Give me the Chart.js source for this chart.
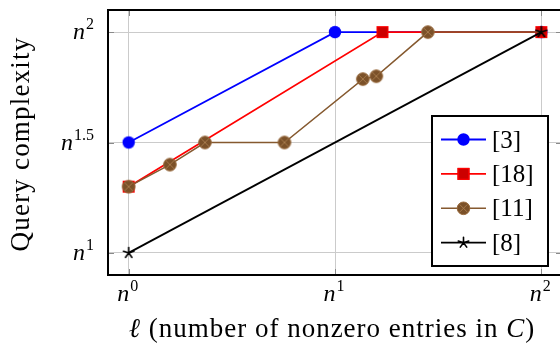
<!DOCTYPE html>
<html><head><meta charset="utf-8">
<script src="https://cdn.jsdelivr.net/npm/chart.js@4.4.1/dist/chart.umd.min.js"></script>
<style>html,body{margin:0;padding:0;background:#fff;overflow:hidden;width:560px;height:352px}canvas{display:block}</style>
</head><body><canvas id="c" width="570" height="352"></canvas>
<script>
// ---- data ----
const seriesLabels = ['[3]', '[18]', '[11]', '[8]'];
const x3  = [0, 1, 2];
const y3  = [1.5, 2, 2];
const x18 = [0, 1.23, 2];
const y18 = [1.3, 2, 2];
const x11 = [0, 0.2, 0.37, 0.755, 1.135, 1.2, 1.45, 2];
const y11 = [1.3, 1.4, 1.5, 1.5, 1.787, 1.8, 2, 2];
const x8  = [0, 2];
const y8  = [1, 2];
const xTickValues = [0, 1, 2];
const xTickExps   = ['0', '1', '2'];
const yTickValues = [1, 1.5, 2];
const yTickExps   = ['1', '1.5', '2'];
const tickBase = 'n';
const xTitle = 'ℓ (number of nonzero entries in C)';
const yTitle = 'Query complexity';

// ---- styling ----
const SERIF = '"Liberation Serif", "Times New Roman", serif';
const colors = { blue: '#0000ff', red: '#ff0000', brown: '#85592f', black: '#000000' };

function drawMarker(ctx, kind, x, y) {
  ctx.save();
  if (kind === 'circle') {
    ctx.beginPath(); ctx.arc(x, y, 6.2, 0, Math.PI * 2);
    ctx.fillStyle = '#0000ff'; ctx.fill();
  } else if (kind === 'square') {
    ctx.fillStyle = '#cc0000'; ctx.fillRect(x - 6, y - 6, 12, 12);
    ctx.strokeStyle = '#ff0000'; ctx.lineWidth = 1.2; ctx.strokeRect(x - 5.4, y - 5.4, 10.8, 10.8);
  } else if (kind === 'otimes') {
    const r = 6.3;
    ctx.beginPath(); ctx.arc(x, y, r, 0, Math.PI * 2);
    ctx.fillStyle = '#7b5129'; ctx.fill();
    ctx.strokeStyle = '#98693b'; ctx.lineWidth = 1; ctx.stroke();
    ctx.strokeStyle = '#a67a4c'; ctx.lineWidth = 1;
    const d = r * 0.62;
    ctx.beginPath();
    ctx.moveTo(x - d, y - d); ctx.lineTo(x + d, y + d);
    ctx.moveTo(x + d, y - d); ctx.lineTo(x - d, y + d);
    ctx.stroke();
  } else if (kind === 'star') {
    ctx.strokeStyle = '#000'; ctx.lineWidth = 1.6; ctx.lineCap = 'round';
    ctx.beginPath();
    for (let k = 0; k < 5; k++) {
      const a = -Math.PI / 2 + k * 2 * Math.PI / 5;
      ctx.moveTo(x, y); ctx.lineTo(x + 5.5 * Math.cos(a), y + 5.5 * Math.sin(a));
    }
    ctx.stroke();
  }
  ctx.restore();
}
function markerImage(kind) {
  const c = document.createElement('canvas');
  c.width = 18; c.height = 18;
  drawMarker(c.getContext('2d'), kind, 9, 9);
  return c;
}
const markerKinds = ['circle', 'square', 'otimes', 'star'];
const lineColors = [colors.blue, colors.red, colors.brown, colors.black];
const lineWidths = [1.8, 1.8, 1.5, 1.8];
const pts = (xs, ys) => xs.map((v, i) => ({ x: v, y: ys[i] }));
const seriesData = [pts(x3, y3), pts(x18, y18), pts(x11, y11), pts(x8, y8)];

const datasets = seriesData.map((d, i) => ({
  label: seriesLabels[i],
  data: d,
  borderColor: lineColors[i],
  borderWidth: lineWidths[i],
  pointStyle: markerImage(markerKinds[i]),
  pointRadius: i === 2 ? d.map((p, j) => j === d.length - 1 ? 0 : 6) : 6,
  pointHoverRadius: 6,
  tension: 0,
  fill: false,
  order: 4 - i
}));

function drawPow(ctx, exp, x, y, align) {
  const baseFont = 'italic 24px ' + SERIF, supFont = '16px ' + SERIF;
  ctx.font = baseFont; const wb = ctx.measureText(tickBase).width;
  ctx.font = supFont; const we = ctx.measureText(exp).width;
  const total = wb + 1 + we;
  const sx = align === 'right' ? x - total : x - total / 2;
  ctx.fillStyle = '#000'; ctx.textAlign = 'left'; ctx.textBaseline = 'alphabetic';
  ctx.font = baseFont; ctx.fillText(tickBase, sx, y);
  ctx.font = supFont; ctx.fillText(exp, sx + wb + 1, y - 10);
}

function drawRichText(ctx, text, cx, y, size, spacing) {
  const parts = text.split(/(ℓ|C)/).filter(s => s.length);
  const fonts = parts.map(p => (p === 'ℓ' || p === 'C' ? 'italic ' : '') + size + 'px ' + SERIF);
  if ('letterSpacing' in ctx) ctx.letterSpacing = spacing + 'px';
  let w = 0; const ws = [];
  parts.forEach((p, i) => { ctx.font = fonts[i]; const m = ctx.measureText(p).width; ws.push(m); w += m; });
  let sx = cx - w / 2;
  ctx.textAlign = 'left'; ctx.textBaseline = 'alphabetic'; ctx.fillStyle = '#000';
  parts.forEach((p, i) => { ctx.font = fonts[i]; ctx.fillText(p, sx, y); sx += ws[i]; });
  if ('letterSpacing' in ctx) ctx.letterSpacing = '0px';
}

const decor = {
  id: 'decor',
  beforeDatasetsDraw(chart) {
    const { ctx, chartArea: a, scales: { x, y } } = chart;
    ctx.save();
    ctx.strokeStyle = '#8a8a8a'; ctx.lineWidth = 1;
    ctx.beginPath();
    xTickValues.forEach(v => {
      const px = Math.round(x.getPixelForValue(v)) + 0.5;
      ctx.moveTo(px, a.bottom); ctx.lineTo(px, a.bottom - 6);
      ctx.moveTo(px, a.top); ctx.lineTo(px, a.top + 6);
    });
    yTickValues.forEach(v => {
      const py = Math.round(y.getPixelForValue(v)) + 0.5;
      ctx.moveTo(a.left, py); ctx.lineTo(a.left + 6, py);
      ctx.moveTo(a.right, py); ctx.lineTo(a.right - 6, py);
    });
    ctx.stroke();
    ctx.restore();
  },
  afterDatasetsDraw(chart) {
    const { ctx, chartArea: a } = chart;
    ctx.save();
    ctx.strokeStyle = '#000'; ctx.lineWidth = 2;
    ctx.strokeRect(a.left, a.top, a.right - a.left, a.bottom - a.top);
    ctx.restore();
  },
  afterDraw(chart) {
    const { ctx, scales: { x, y } } = chart;
    ctx.save();
    // tick labels
    yTickValues.forEach((v, i) => drawPow(ctx, yTickExps[i], 94, y.getPixelForValue(v) + 7, 'right'));
    xTickValues.forEach((v, i) => drawPow(ctx, xTickExps[i], x.getPixelForValue(v) - 1, 301, 'center'));
    // axis titles
    drawRichText(ctx, xTitle, 332, 337, 27, 1);
    ctx.save();
    ctx.translate(29, 144); ctx.rotate(-Math.PI / 2);
    drawRichText(ctx, yTitle, 0, 0, 27, 1.2);
    ctx.restore();
    // legend
    const L = 432, T = 116, W = 116, H = 150;
    ctx.fillStyle = '#fff'; ctx.fillRect(L, T, W, H);
    ctx.strokeStyle = '#000'; ctx.lineWidth = 2; ctx.strokeRect(L, T, W, H);
    seriesLabels.forEach((lab, i) => {
      const ey = 139.5 + i * 34.4;
      ctx.strokeStyle = lineColors[i]; ctx.lineWidth = lineWidths[i];
      ctx.beginPath(); ctx.moveTo(441, ey); ctx.lineTo(486, ey); ctx.stroke();
      drawMarker(ctx, markerKinds[i], 463.5, ey);
      ctx.fillStyle = '#000'; ctx.font = '25px ' + SERIF;
      ctx.textAlign = 'left'; ctx.textBaseline = 'alphabetic';
      ctx.fillText(lab, 492, ey + 8);
    });
    ctx.restore();
  }
};

new Chart(document.getElementById('c'), {
  type: 'line',
  data: { datasets },
  options: {
    responsive: false,
    animation: false,
    layout: { padding: { left: 108, top: 10, right: 8, bottom: 77 } },
    plugins: { legend: { display: false }, tooltip: { enabled: false } },
    scales: {
      x: {
        type: 'linear', min: -0.1, max: 2.1,
        afterBuildTicks: s => { s.ticks = xTickValues.map(v => ({ value: v })); },
        afterFit: s => { s.height = 0; },
        ticks: { display: false },
        grid: { color: '#cbcbcb', lineWidth: 1, drawTicks: false },
        border: { display: false },
        title: { display: false }
      },
      y: {
        type: 'linear', min: 0.9, max: 2.1,
        afterBuildTicks: s => { s.ticks = yTickValues.map(v => ({ value: v })); },
        afterFit: s => { s.width = 0; },
        ticks: { display: false },
        grid: { color: '#cbcbcb', lineWidth: 1, drawTicks: false },
        border: { display: false },
        title: { display: false }
      }
    }
  },
  plugins: [decor]
});
</script>
</body></html>
